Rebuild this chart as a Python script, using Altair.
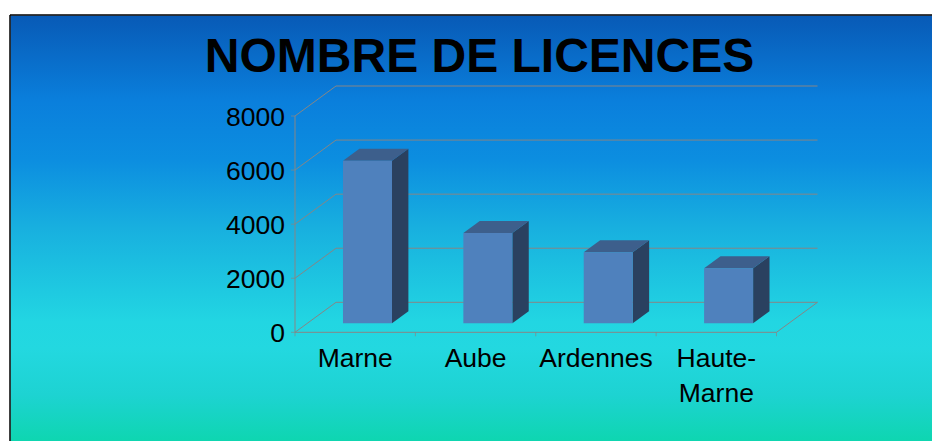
import altair as alt
import pandas as pd

# ---------------- data ----------------
categories = ["Marne", "Aube", "Ardennes", "Haute-Marne"]
label_lines = [["Marne"], ["Aube"], ["Ardennes"], ["Haute-", "Marne"]]
values = [6010, 3340, 2625, 2035]
y_ticks = [0, 2000, 4000, 6000, 8000]
y_tick_labels = ["0", "2000", "4000", "6000", "8000"]
title_text = "NOMBRE DE LICENCES"

# ---------------- layout / style ----------------
W, H = 922, 426
PAD_L, PAD_T = 2, 7
X0, X4 = 285.0, 766.5        # pixel range of the front floor edge
Y0, Y8 = 317.3, 101.0        # pixel range of the front value axis
DEPTH_DX, DEPTH_DY = 41.0, 30.0
BAR_W = 49.0
F0, F1 = 0.3, 0.7            # bar front/back position in depth
GRID = "#868686"
FONT = "Liberation Sans"
FS = 26.5
FRONT, TOP, SIDE = "#4f81bd", "#3d5f8c", "#2a4160"
STOPS = [
    (0.0, "#085ab6"), (0.2, "#0a7fdc"), (0.34, "#0c8ee0"), (0.5, "#18b0df"),
    (0.72, "#22d6e2"), (0.78, "#23d8e0"), (0.89, "#1dd3d2"), (1.0, "#0ed6b0"),
]

ppx = (X4 - X0) / 4
ppy = (Y0 - Y8) / 8000
DX = DEPTH_DX / ppx
DY = DEPTH_DY / ppy
HW = BAR_W / 2 / ppx
N = len(categories)

xs = alt.Scale(domain=[0, N], range=[X0, X4], nice=False, zero=False)
ys = alt.Scale(domain=[0, 8000], range=[Y0, Y8], nice=False, zero=False)


def X(field, **kw):
    return alt.X(field, scale=xs, axis=None, **kw)


def Y(field, **kw):
    return alt.Y(field, scale=ys, axis=None, **kw)


# ---------------- derived tables ----------------
grid_rows = []
for t in y_ticks:
    grid_rows.append(dict(x=0, x2=DX, y=t, y2=t + DY))            # left wall
    grid_rows.append(dict(x=DX, x2=N + DX, y=t + DY, y2=t + DY))  # back wall
grid_rows.append(dict(x=N, x2=N + DX, y=0, y2=DY))                # floor side
grid_rows.append(dict(x=0, x2=N, y=0, y2=0))                      # x axis line
grid_rows.append(dict(x=0, x2=0, y=0, y2=y_ticks[-1]))            # y axis line
grid_df = pd.DataFrame(grid_rows)

front_rows, top_rows, side_rows = [], [], []
for i, (c, v) in enumerate(zip(categories, values)):
    xc = i + 0.5 + F0 * DX
    sx = (F1 - F0) * DX
    front_rows.append(dict(cat=c, x=xc - HW, x2=xc + HW, y=F0 * DY, y2=v + F0 * DY))
    top_rows.append(dict(cat=c, y=v + F0 * DY, x=xc - HW, x2=xc + HW))
    top_rows.append(dict(cat=c, y=v + F1 * DY, x=xc - HW + sx, x2=xc + HW + sx))
    side_rows.append(dict(cat=c, x=xc + HW, y=F0 * DY, y2=v + F0 * DY))
    side_rows.append(dict(cat=c, x=xc + HW + sx, y=F1 * DY, y2=v + F1 * DY))
front_df = pd.DataFrame(front_rows)
top_df = pd.DataFrame(top_rows)
side_df = pd.DataFrame(side_rows)

ytick_df = pd.DataFrame({"t": y_ticks, "lab": y_tick_labels, "x": 0})
xtick_df = pd.DataFrame({"x": list(range(N + 1)), "y": 0})
xlab_df = pd.DataFrame({"x": [i + 0.5 for i in range(N)], "y": 0,
                        "cat": categories, "lab": label_lines})

gradient_expr = (
    "{gradient: 'linear', x1: 0, y1: 0, x2: 0, y2: 1, stops: ["
    + ", ".join("{offset: %s, color: '%s'}" % (o, c) for o, c in STOPS)
    + "]}"
)

one = pd.DataFrame({"k": [0]})
border = alt.layer(
    alt.Chart(one).mark_rule(color="black", strokeWidth=1.5).encode(
        x=alt.value(0), x2=alt.value(W + 4), y=alt.value(0)
    ),
    alt.Chart(one).mark_rule(color="black", strokeWidth=1.5).encode(
        x=alt.value(0), y=alt.value(0), y2=alt.value(H + 4)
    ),
)

grid = alt.Chart(grid_df).mark_rule(color=GRID, strokeWidth=1).encode(
    x=X("x:Q"), x2="x2:Q", y=Y("y:Q"), y2="y2:Q",
)

yticks = alt.Chart(ytick_df).mark_tick(
    orient="horizontal", size=4, thickness=1, color=GRID, xOffset=-2
).encode(x=X("x:Q"), y=Y("t:Q"))

ylabels = alt.Chart(ytick_df).mark_text(
    align="right", baseline="middle", dx=-10, dy=1.5,
    font=FONT, fontSize=FS, color="black"
).encode(x=X("x:Q"), y=Y("t:Q"), text="lab:N")

xticks = alt.Chart(xtick_df).mark_tick(
    orient="vertical", size=4, thickness=1, color=GRID, yOffset=2
).encode(x=X("x:Q"), y=Y("y:Q"))

xlabels = alt.Chart(xlab_df).mark_text(
    align="center", baseline="alphabetic", dy=35, lineHeight=35,
    font=FONT, fontSize=FS, color="black"
).encode(x=X("x:Q"), y=Y("y:Q"), text="lab")

side = alt.Chart(side_df).mark_area(orient="vertical", color=SIDE).encode(
    x=X("x:Q"), y=Y("y:Q", stack=False), y2="y2:Q", detail="cat:N",
)

top = alt.Chart(top_df).mark_area(orient="horizontal", color=TOP).encode(
    y=Y("y:Q"), x=X("x:Q", stack=False), x2="x2:Q", detail="cat:N",
)

front = alt.Chart(front_df).mark_rect(color=FRONT).encode(
    x=X("x:Q"), x2="x2:Q", y=Y("y:Q"), y2="y2:Q", tooltip=["cat:N"],
)

chart = alt.layer(
    grid, yticks, xticks, side, top, front, ylabels, xlabels, border
).properties(
    width=W,
    height=H,
    autosize="none",
    padding={"left": PAD_L, "top": PAD_T, "right": 0, "bottom": 0},
    view=alt.ViewBackground(fill=alt.expr(gradient_expr), stroke="transparent"),
    title=alt.TitleParams(
        text=title_text, font=FONT, fontSize=48, fontWeight="bold",
        color="black", anchor="middle", offset=-68, dx=8.5, zindex=1,
    ),
)

chart.save("out.html", embed_options={"renderer": "svg", "actions": False})
